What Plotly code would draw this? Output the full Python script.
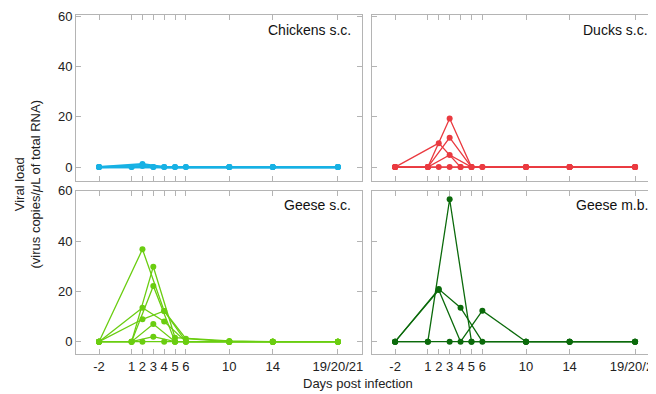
import plotly.graph_objects as go

# ---- data ----
days_A = [-2, 1, 3, 5, 10, 14, 20]   # birds sampled on odd days
days_B = [-2, 2, 4, 6, 10, 14, 20]   # birds sampled on even days
tick_vals = [-2, 1, 2, 3, 4, 5, 6, 10, 14, 20]
tick_text = ["-2", "1", "2", "3", "4", "5", "6", "10", "14", "19/20/21"]
y_ticks = [0, 20, 40, 60]

chickens_A = [[0, 0, 0, 0, 0, 0, 0], [0, 0, 0, 0, 0, 0, 0]]
chickens_B = [[0, 1.2, 0, 0, 0, 0, 0], [0, 0.4, 0, 0, 0, 0, 0]]

ducks_A = [[0, 0, 19.3, 0, 0, 0, 0], [0, 0, 11.7, 0, 0, 0, 0],
           [0, 0, 4.8, 0, 0, 0, 0], [0, 0, 0, 0, 0, 0, 0]]
ducks_B = [[0, 9.5, 0, 0, 0, 0, 0], [0, 0, 0, 0, 0, 0, 0]]

geese_sc_A = [[0, 0, 29.8, 1.6, 0.3, 0, 0], [0, 0, 22.1, 0, 0, 0, 0],
              [0, 0, 7.0, 0, 0, 0, 0], [0, 0, 2.0, 0, 0, 0, 0]]
geese_sc_B = [[0, 36.7, 12.2, 1.2, 0, 0, 0], [0, 13.5, 8.0, 0, 0, 0, 0],
              [0, 8.9, 12.2, 0, 0, 0, 0], [0, 0, 0, 0, 0, 0, 0]]

geese_mb_A = [[0, 0, 56.6, 0, 0, 0, 0], [0, 0, 0, 0, 0, 0, 0]]
geese_mb_B = [[0, 20.9, 13.5, 0, 0, 0, 0], [0, 20.5, 0, 12.3, 0, 0, 0]]

panels = [
    ("Chickens s.c.", "#17b1e4", chickens_A, chickens_B, "x", "y", 2.2),
    ("Ducks s.c.", "#ea3a40", ducks_A, ducks_B, "x2", "y2", 1.3),
    ("Geese s.c.", "#6acd10", geese_sc_A, geese_sc_B, "x3", "y3", 1.3),
    ("Geese m.b.", "#0b6a0b", geese_mb_A, geese_mb_B, "x4", "y4", 1.3),
]

fig = go.Figure()
for name, color, A, B, xa, ya, lw in panels:
    for days, group in ((days_A, A), (days_B, B)):
        for vals in group:
            fig.add_trace(go.Scatter(
                x=days, y=vals, mode="lines+markers", xaxis=xa, yaxis=ya,
                line=dict(color=color, width=lw),
                marker=dict(color=color, size=6),
                showlegend=False, hoverinfo="skip"))

# page body adds an 8px offset; work in window pixels and subtract it
OFF = 8
W, H = 656 - OFF, 394 - OFF
ML, MR, MT, MB = 76 - OFF, 0, 15 - OFF, 40
PW, PH = W - ML - MR, H - MT - MB

def px(x):
    return (x - OFF - ML) / PW

def py(y):
    return (H - MB - (y - OFF)) / PH

grey = "#b4b4b4"
font = dict(family="Liberation Sans, Arial, sans-serif", size=13, color="#222")

def xaxis(domain, rng, labels, anchor):
    return dict(domain=domain, range=rng, tickvals=tick_vals, ticktext=tick_text,
                showticklabels=labels, ticks="inside", ticklen=5, tickcolor=grey,
                showline=True, linecolor=grey, linewidth=1, mirror="ticks",
                showgrid=False, zeroline=False, tickfont=font, fixedrange=True,
                ticklabeloverflow="allow", automargin=False, anchor=anchor)

def yaxis(domain, rng, labels, anchor):
    return dict(domain=domain, range=rng, tickvals=y_ticks,
                showticklabels=labels, ticks="inside", ticklen=5, tickcolor=grey,
                showline=True, linecolor=grey, linewidth=1, mirror="ticks",
                showgrid=False, zeroline=False, tickfont=font, fixedrange=True,
                automargin=False, anchor=anchor)

xl = [0, px(362)]
xr = [px(372), 1]
yt = [py(180.7), 1]
yb = [0, py(190.7)]

fig.update_layout(
    width=W, height=H, margin=dict(l=ML, r=MR, t=MT, b=MB, autoexpand=False),
    paper_bgcolor="white", plot_bgcolor="white", font=font,
    xaxis=xaxis(xl, [-4.12, 22.22], False, "y"), yaxis=yaxis(yt, [-5.4, 60.4], True, "x"),
    xaxis2=xaxis(xr, [-4.12, 21.92], False, "y2"), yaxis2=yaxis(yt, [-5.4, 60.4], False, "x2"),
    xaxis3=xaxis(xl, [-4.12, 22.22], True, "y3"), yaxis3=yaxis(yb, [-4.9, 60.0], True, "x3"),
    xaxis4=xaxis(xr, [-4.12, 21.92], True, "y4"), yaxis4=yaxis(yb, [-4.9, 60.0], False, "x4"),
)

lab_font = dict(family="Liberation Sans, Arial, sans-serif", size=14, color="#111")
for text, x, y in (("Chickens s.c.", 353, 30), ("Ducks s.c.", 650, 30),
                   ("Geese s.c.", 353, 205), ("Geese m.b.", 650, 205)):
    fig.add_annotation(text=text, x=px(x), y=py(y), xref="paper", yref="paper",
                       xanchor="right", yanchor="middle", showarrow=False, font=lab_font)

fig.add_annotation(text="Days post infection", x=px(358), y=py(384), xref="paper", yref="paper",
                   xanchor="center", yanchor="middle", showarrow=False, font=font)
fig.add_annotation(text="Viral load<br>(virus copies/<i>μ</i>L of total RNA)", x=px(27), y=py(184.5),
                   xref="paper", yref="paper", xanchor="center", yanchor="middle",
                   textangle=-90, showarrow=False, font=font)

fig.write_html("out.html")
